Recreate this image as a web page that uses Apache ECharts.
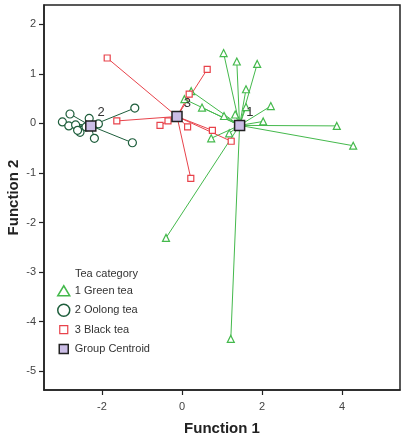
<!DOCTYPE html>
<html>
<head>
<meta charset="utf-8">
<script src="https://cdn.jsdelivr.net/npm/echarts@6/dist/echarts.min.js"></script>
<style>
  html, body { margin: 0; padding: 0; background: #fff; }
  #main { width: 405px; height: 442px; }
</style>
</head>
<body>
<div id="main"></div>
<script>
// discriminant scores
var greenTea = [
  [1.04, 1.42], [1.37, 1.25], [1.88, 1.20], [1.60, 0.69], [0.23, 0.65],
  [0.06, 0.49], [0.50, 0.32], [2.22, 0.35], [1.60, 0.33], [1.33, 0.18],
  [1.05, 0.15], [2.03, 0.04], [3.87, -0.05], [4.28, -0.45], [0.73, -0.30],
  [1.18, -0.20], [-0.40, -2.31], [1.22, -4.35]
];
var oolongTea = [
  [-2.80, 0.19], [-2.99, 0.03], [-2.83, -0.05], [-2.66, -0.03], [-2.55, -0.18],
  [-2.61, -0.14], [-2.32, 0.10], [-2.09, -0.01], [-2.19, -0.30], [-1.18, 0.31],
  [-1.24, -0.39], [-2.40, -0.07]
];
var blackTea = [
  [-1.87, 1.32], [0.63, 1.09], [0.18, 0.59], [-1.63, 0.05], [-0.35, 0.05],
  [-0.55, -0.04], [0.14, -0.07], [0.76, -0.14], [1.23, -0.36], [0.22, -1.11]
];
var centroids = [[1.44, -0.04], [-2.28, -0.05], [-0.125, 0.14]];
var centroidLabels = ['1', '2', '3'];
var groupNames = ['1 Green tea', '2 Oolong tea', '3 Black tea'];
var xTicks = [-2, 0, 2, 4];
var yTicks = [-5, -4, -3, -2, -1, 0, 1, 2];

var colors = ['#44b94c', '#1e5e3c', '#e8434b'];
var groups = [greenTea, oolongTea, blackTea];
var symbols = ['triangle', 'circle', 'rect'];
var sizes = [7, 8, 6];

function spokes(points, c) {
  return points.map(function (p) { return { coords: [p, c] }; });
}

var series = [];
groups.forEach(function (pts, i) {
  series.push({
    type: 'lines',
    coordinateSystem: 'cartesian2d',
    silent: true,
    z: 1,
    lineStyle: { color: colors[i], width: 1, opacity: 1 },
    data: spokes(pts, centroids[i])
  });
});
groups.forEach(function (pts, i) {
  series.push({
    name: groupNames[i],
    type: 'scatter',
    symbol: symbols[i],
    symbolSize: sizes[i],
    z: 3,
    itemStyle: { color: '#fff', borderColor: colors[i], borderWidth: 1.2, opacity: 1 },
    data: pts
  });
});
series.push({
  name: 'Group Centroid',
  type: 'scatter',
  symbol: 'rect',
  symbolSize: 10,
  z: 5,
  itemStyle: { color: '#cbbde6', borderColor: '#222', borderWidth: 1.5, opacity: 1 },
  label: {
    show: true,
    position: 'right',
    distance: 1,
    offset: [0, -13],
    fontSize: 13,
    fontFamily: 'Liberation Sans',
    color: '#333',
    formatter: function (p) { return centroidLabels[p.dataIndex]; }
  },
  data: centroids
});

var axisText = { color: '#444', fontSize: 11, fontFamily: 'Liberation Sans' };

var chart = echarts.init(document.getElementById('main'));
chart.setOption({
  animation: false,
  backgroundColor: '#fff',
  grid: {
    left: 44, right: 5, top: 5, bottom: 52,
    containLabel: false, outerBoundsMode: 'none',
    show: true, borderColor: '#222', borderWidth: 1.5
  },
  xAxis: {
    type: 'value',
    min: -3.45, max: 5.45,
    name: 'Function 1',
    nameLocation: 'middle',
    nameGap: 31,
    nameTextStyle: { fontSize: 15, fontWeight: 'bold', color: '#222', fontFamily: 'Liberation Sans' },
    axisLine: { show: true, onZero: false, lineStyle: { color: '#222', width: 1.5 } },
    axisTick: { show: true, length: 5, customValues: xTicks, lineStyle: { color: '#222', width: 1.2 } },
    axisLabel: Object.assign({ customValues: xTicks, margin: 11 }, axisText),
    splitLine: { show: false }
  },
  yAxis: {
    type: 'value',
    min: -5.38, max: 2.39,
    name: 'Function 2',
    nameLocation: 'middle',
    nameGap: 23,
    nameMoveOverlap: false,
    nameTextStyle: { fontSize: 15, fontWeight: 'bold', color: '#222', fontFamily: 'Liberation Sans' },
    axisLine: { show: true, onZero: false, lineStyle: { color: '#222', width: 1.5 } },
    axisTick: { show: true, length: 5, customValues: yTicks, lineStyle: { color: '#222', width: 1.2 } },
    axisLabel: Object.assign({ customValues: yTicks, margin: 8 }, axisText),
    splitLine: { show: false }
  },
  title: {
    text: 'Tea category',
    left: 75, top: 268,
    padding: 0,
    textStyle: { fontSize: 11, fontWeight: 'normal', color: '#333', fontFamily: 'Liberation Sans' }
  },
  legend: {
    orient: 'vertical',
    left: 56, top: 283,
    padding: 0,
    itemGap: 4,
    itemWidth: 14, itemHeight: 14,
    textStyle: { fontSize: 11, color: '#333', fontFamily: 'Liberation Sans', padding: [0, 0, 0, -1] },
    data: [
      { name: groupNames[0], icon: 'path://M0,0M14,14M7,2L13,12L1,12Z', itemStyle: { color: '#fff', borderColor: colors[0], borderWidth: 1.5 } },
      { name: groupNames[1], icon: 'path://M0,0M14,14M1,7A6,6 0 1 1 13,7A6,6 0 1 1 1,7Z', itemStyle: { color: '#fff', borderColor: colors[1], borderWidth: 1.5 } },
      { name: groupNames[2], icon: 'path://M0,0M14,14M3,3L11,3L11,11L3,11Z', itemStyle: { color: '#fff', borderColor: colors[2], borderWidth: 1.2 } },
      { name: 'Group Centroid', icon: 'path://M0,0M14,14M2.5,2.5L11.5,2.5L11.5,11.5L2.5,11.5Z', itemStyle: { color: '#cbbde6', borderColor: '#222', borderWidth: 1.5 } }
    ]
  },
  series: series
});
</script>
</body>
</html>
